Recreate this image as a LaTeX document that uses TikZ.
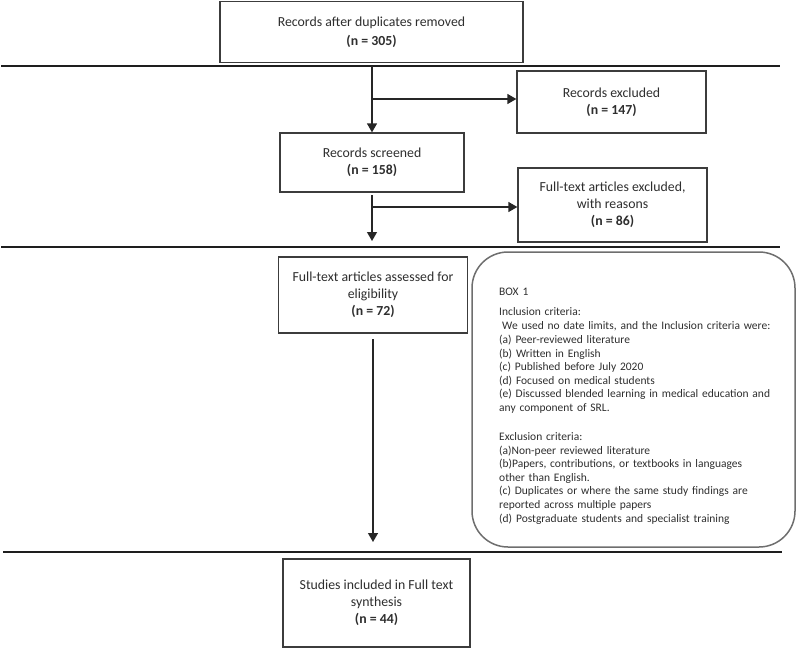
\documentclass[tikz,border=0pt]{standalone}
\usepackage{fontspec}
\setmainfont{Carlito}
\usetikzlibrary{arrows.meta}
\definecolor{ink}{HTML}{2E2E2E}
\definecolor{edge}{HTML}{3C3C3C}
\definecolor{sep}{HTML}{1E1E1E}
\definecolor{softedge}{HTML}{6E6E6E}
\begin{document}
\begin{tikzpicture}[x=1pt,y=-1pt,
  box/.style={draw=edge, line width=1.3pt, fill=white, align=center, text=ink,
    font=\fontsize{13.8}{17}\selectfont, inner sep=0pt},
  sepline/.style={draw=sep, line width=2.6pt},
  arr/.style={draw=black!85, line width=1.3pt, -{Triangle[length=9pt,width=10pt]}},
  critbox/.style={draw=softedge, line width=1.5pt, rounded corners=36pt},
  crittext/.style={anchor=north west, inner sep=0pt, align=left, text=ink,
    text width=295pt, font=\fontsize{11.5}{13.6}\selectfont}
  ]
\useasboundingbox (0,0) rectangle (800,648);

% separators
\draw[sepline] (1,66) -- (780,66);
\draw[sepline] (1,247) -- (780,247);
\draw[sepline] (3,552) -- (782,552);

% boxes
\node[box, minimum width=303, minimum height=61] (top) at (371.5,32)
  {Records after duplicates removed\\[2pt]\textbf{(n = 305)}};
\node[box, minimum width=189, minimum height=62] (recexc) at (611.5,102)
  {Records excluded\\\textbf{(n = 147)}};
\node[box, minimum width=184, minimum height=59] (screened) at (372,162.5)
  {Records screened\\\textbf{(n = 158)}};
\node[box, minimum width=189, minimum height=74] (ftexc) at (612.5,205)
  {Full-text articles excluded,\\with reasons\\\textbf{(n = 86)}};
\node[box, minimum width=189, minimum height=76] (assess) at (373,295)
  {Full-text articles assessed for\\eligibility\\\textbf{(n = 72)}};
\node[box, minimum width=187, minimum height=88] (studies) at (376.5,603)
  {Studies included in Full text\\synthesis\\\textbf{(n = 44)}};

% criteria box
\draw[critbox] (472,252) rectangle (795,547);
\node[crittext] (crit) at (499,288) {BOX 1\\[6pt]
Inclusion criteria:\\[1pt]
\hspace{3pt}We used no date limits, and the Inclusion criteria were:\\
(a) Peer-reviewed literature\\
(b) Written in English\\
(c) Published before July 2020\\
(d) Focused on medical students\\
(e) Discussed blended learning in medical education and\\
any component of SRL.\\[15.5pt]
Exclusion criteria:\\
(a)Non-peer reviewed literature\\
(b)Papers, contributions, or textbooks in languages\\
other than English.\\
(c) Duplicates or where the same study findings are\\
reported across multiple papers\\
(d) Postgraduate students and specialist training};

% connectors
\coordinate (s1) at (372,66);
\coordinate (b1) at (372,99);
\draw[arr] (s1) -- (screened.north);
\draw[arr] (b1) -- (recexc.west |- b1);

\coordinate (t2) at (372,195);
\coordinate (e2) at (372,241);
\coordinate (b2) at (372,207);
\draw[arr] (t2) -- (e2);
\draw[arr] (b2) -- (ftexc.west |- b2);

\coordinate (t3) at (373,339);
\coordinate (e3) at (373,542);
\draw[arr] (t3) -- (e3);
\end{tikzpicture}
\end{document}
